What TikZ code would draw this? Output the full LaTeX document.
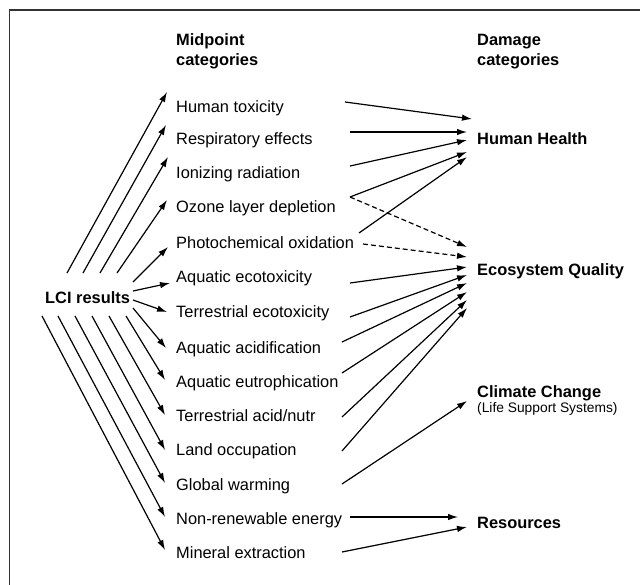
\documentclass[tikz,border=0pt]{standalone}
\usepackage{fontspec}
\setmainfont{Liberation Sans}
\usetikzlibrary{arrows.meta}
\begin{document}
\begin{tikzpicture}[x=1pt,y=-1pt,
  lbl/.style={anchor=west,inner sep=0pt,text height=11.7pt,text depth=0pt,font=\fontsize{16.4}{19}\selectfont},
  hdr/.style={lbl,font=\fontsize{16.4}{19}\selectfont\bfseries},
  sublbl/.style={anchor=west,inner sep=0pt,text height=9.9pt,text depth=0pt,font=\fontsize{13.8}{16}\selectfont},
  arr/.style={line width=1.2pt,-{Latex[length=10pt,width=6.5pt]}},
  darr/.style={arr,dash pattern=on 5pt off 3pt},
  frameline/.style={line width=1.3pt,black!80}]
\useasboundingbox (0,0) rectangle (640,584);
\draw[frameline] (9.3,590) -- (9.3,10) -- (645,10);

% headers
\node[hdr] (mid1) at (176,40) {Midpoint};
\node[hdr] (mid2) at (176,60) {categories};
\node[hdr] (dam1) at (477,40) {Damage};
\node[hdr] (dam2) at (477,60) {categories};

% source
\node[hdr] (lci) at (45,298) {LCI results};

% midpoint categories
\node[lbl] (ht)  at (176,107) {Human toxicity};
\node[lbl] (re)  at (176,139) {Respiratory effects};
\node[lbl] (ir)  at (176,173) {Ionizing radiation};
\node[lbl] (oz)  at (176,207) {Ozone layer depletion};
\node[lbl] (po)  at (176,243) {Photochemical oxidation};
\node[lbl] (ae)  at (176,277) {Aquatic ecotoxicity};
\node[lbl] (te)  at (176,312) {Terrestrial ecotoxicity};
\node[lbl] (aa)  at (176,348) {Aquatic acidification};
\node[lbl] (au)  at (176,382) {Aquatic eutrophication};
\node[lbl] (tn)  at (176,416) {Terrestrial acid/nutr};
\node[lbl] (lo)  at (176,450) {Land occupation};
\node[lbl] (gw)  at (176,485) {Global warming};
\node[lbl] (nr)  at (176,519) {Non-renewable energy};
\node[lbl] (me)  at (176,553) {Mineral extraction};

% damage categories
\node[hdr] (hh) at (477,139) {Human Health};
\node[hdr] (eq) at (477,270) {Ecosystem Quality};
\node[hdr] (cc) at (477,392) {Climate Change};
\node[sublbl] (ls) at (477,408) {(Life Support Systems)};
\node[hdr] (rs) at (477,523) {Resources};

% LCI -> midpoints (upper fan)
\draw[arr] ([shift={(22,-25)}]lci.west) -- ([shift={(-9,-15)}]ht.west);
\draw[arr] ([shift={(38,-25)}]lci.west) -- ([shift={(-10,-14)}]re.west);
\draw[arr] ([shift={(55,-25)}]lci.west) -- ([shift={(-8,-16)}]ir.west);
\draw[arr] ([shift={(72,-25)}]lci.west) -- ([shift={(-9,-7)}]oz.west);
% LCI -> midpoints (right side)
\draw[arr] ([shift={(88,-16)}]lci.west) -- ([shift={(-8,4)}]po.west);
\draw[arr] ([shift={(88,-7)}]lci.west) -- ([shift={(-6,6)}]ae.west);
\draw[arr] ([shift={(88,2)}]lci.west) -- ([shift={(-9,0)}]te.west);
\draw[arr] ([shift={(88,10)}]lci.west) -- ([shift={(-10,0)}]aa.west);
% LCI -> midpoints (lower fan)
\draw[arr] ([shift={(81,18)}]lci.west) -- ([shift={(-11,-2)}]au.west);
\draw[arr] ([shift={(64,18)}]lci.west) -- ([shift={(-11,-1)}]tn.west);
\draw[arr] ([shift={(47,18)}]lci.west) -- ([shift={(-11,0)}]lo.west);
\draw[arr] ([shift={(30,18)}]lci.west) -- ([shift={(-11,-2)}]gw.west);
\draw[arr] ([shift={(13,18)}]lci.west) -- ([shift={(-11,-2)}]nr.west);
\draw[arr] ([shift={(-3,18)}]lci.west) -- ([shift={(-11,-3)}]me.west);

% midpoints -> Human Health
\draw[arr] ([shift={(169,-5)}]ht.west) -- ([shift={(-5,-20)}]hh.west);
\draw[arr] ([shift={(174,-7)}]re.west) -- ([shift={(-10,-7)}]hh.west);
\draw[arr] ([shift={(174,-7)}]ir.west) -- ([shift={(-10,1)}]hh.west);
\draw[arr] ([shift={(174,-10)}]oz.west) -- ([shift={(-10,13)}]hh.west);
\draw[arr] ([shift={(183,-10)}]po.west) -- ([shift={(-10,18)}]hh.west);

% midpoints -> Ecosystem Quality
\draw[darr] ([shift={(174,-10)}]oz.west) -- ([shift={(-10,-23)}]eq.west);
\draw[darr] ([shift={(187,1)}]po.west) -- ([shift={(-10,-13)}]eq.west);
\draw[arr] ([shift={(174,6)}]ae.west) -- ([shift={(-10,-3)}]eq.west);
\draw[arr] ([shift={(174,5)}]te.west) -- ([shift={(-10,5)}]eq.west);
\draw[arr] ([shift={(166,-6)}]aa.west) -- ([shift={(-10,13)}]eq.west);
\draw[arr] ([shift={(166,-9)}]au.west) -- ([shift={(-10,22)}]eq.west);
\draw[arr] ([shift={(166,1)}]tn.west) -- ([shift={(-10,30)}]eq.west);
\draw[arr] ([shift={(166,1)}]lo.west) -- ([shift={(-10,38)}]eq.west);

% Global warming -> Climate Change
\draw[arr] ([shift={(166,-1)}]gw.west) -- ([shift={(-10,9)}]cc.west);

% Resources
\draw[arr] ([shift={(174,-2)}]nr.west) -- ([shift={(-19,-6)}]rs.west);
\draw[arr] ([shift={(166,-1)}]me.west) -- ([shift={(-10,4)}]rs.west);
\end{tikzpicture}
\end{document}
